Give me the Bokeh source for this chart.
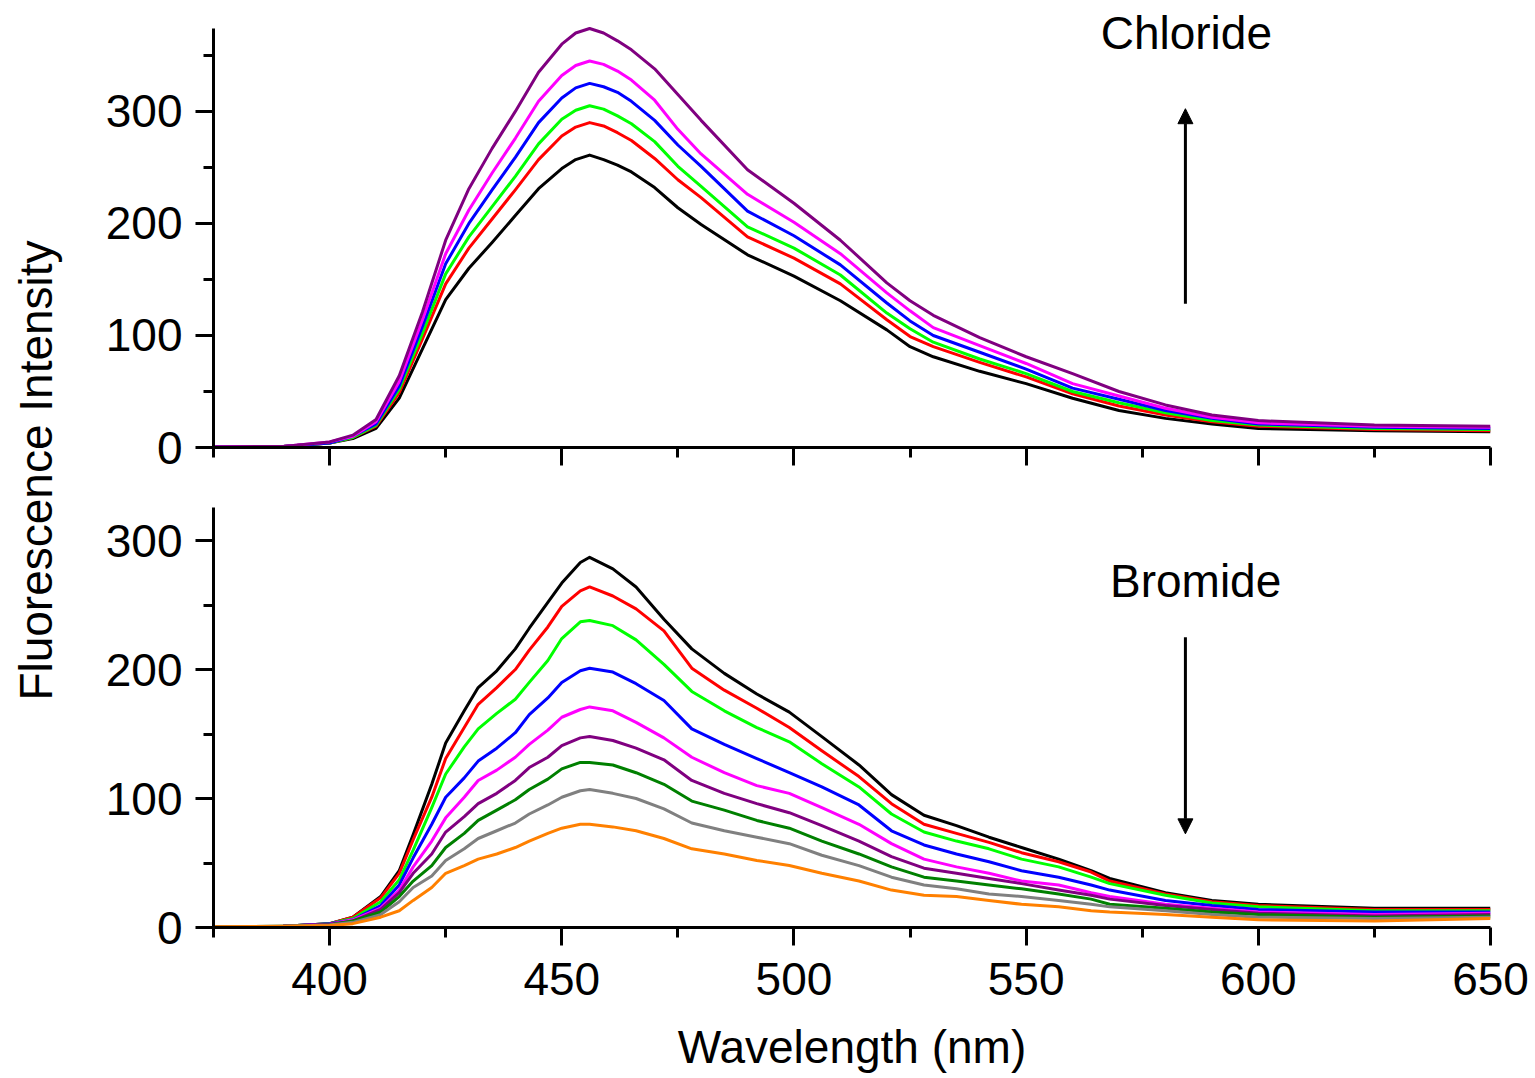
import math
from bokeh.plotting import figure
from bokeh.models import Range1d, FixedTicker, Label, Arrow, NormalHead, CustomJSTickFormatter
from bokeh.layouts import row, column
from bokeh.embed import file_html
from bokeh.resources import INLINE

FONT = "Liberation Sans"

# ---------------- data ----------------
# Chloride (top panel)
wl_cl = [375, 390, 400, 405, 410, 415, 420, 425, 430, 435, 440, 445, 450, 453, 456, 459, 462, 465,
         470, 475, 480, 490, 500, 510, 520, 525, 530, 540, 550, 560, 570, 580, 590, 600, 625, 650]
cl_black = [0.5, 1, 4, 8, 17, 44, 88, 132, 160, 183, 207, 231, 249, 257, 261, 257, 252, 246,
            232, 214, 199, 172, 153, 131, 105, 90, 81, 68, 57, 44, 33, 26, 21, 17, 15, 14]
cl_red = [0.5, 1, 4, 9, 19, 49, 97, 146, 178, 204, 230, 257, 278, 286, 290, 287, 281, 274,
          258, 239, 223, 188, 169, 146, 114, 99, 90, 76, 63, 48, 37, 29, 23, 19, 16, 15]
cl_green = [0.5, 1, 4, 9, 20, 52, 102, 155, 188, 215, 242, 271, 293, 301, 305, 302, 296, 289,
            273, 251, 233, 197, 178, 154, 120, 106, 94, 79, 66, 50, 40, 31, 24, 20, 17, 16]
cl_blue = [0.5, 1, 4, 10, 21, 55, 108, 164, 200, 230, 259, 290, 312, 321, 325, 322, 317, 309,
           292, 270, 251, 211, 189, 163, 129, 113, 100, 85, 70, 53, 43, 33, 26, 21, 18, 17]
cl_magenta = [0.5, 1, 5, 10, 23, 59, 114, 173, 212, 245, 276, 309, 332, 341, 345, 342, 336, 328,
              310, 284, 262, 226, 201, 173, 138, 122, 107, 91, 75, 57, 46, 35, 27, 22, 19, 18]
cl_purple = [0.5, 1, 5, 11, 25, 64, 121, 185, 231, 267, 300, 335, 360, 370, 374, 370, 363, 355,
             338, 315, 292, 248, 218, 185, 147, 131, 118, 98, 81, 66, 50, 38, 29, 24, 20, 19]

# Bromide (bottom panel)
wl_br = [375, 390, 400, 405, 411, 415, 418, 422, 425, 429, 432, 436, 440, 443, 447, 450, 454, 456,
         461, 466, 472, 478, 485, 492, 499, 506, 514, 521, 528, 535, 542, 549, 557, 564, 568,
         580, 590, 600, 625, 650]
br_black = [0.5, 1, 3, 8, 24, 44, 72, 111, 143, 168, 186, 199, 216, 232, 252, 267, 283, 287,
            278, 264, 239, 216, 197, 181, 167, 148, 126, 103, 87, 79, 70, 62, 53, 44, 38,
            27, 21, 18, 15, 15]
br_red = [0.5, 1, 3, 8, 23, 42, 68, 101, 131, 155, 173, 186, 200, 215, 233, 249, 261, 264,
          257, 247, 230, 201, 184, 170, 155, 137, 117, 96, 80, 73, 66, 58, 51, 43, 36,
          26, 20, 17, 14, 14]
br_green = [0.5, 1, 3, 7, 20, 37, 60, 93, 119, 140, 154, 166, 177, 190, 207, 224, 237, 238,
            234, 223, 204, 183, 168, 155, 144, 127, 109, 88, 74, 67, 61, 53, 47, 39, 34,
            25, 19, 16, 13, 13]
br_blue = [0.5, 1, 3, 6, 17, 33, 54, 80, 101, 116, 129, 139, 151, 165, 178, 190, 199, 201,
           198, 189, 176, 154, 142, 131, 120, 109, 95, 75, 64, 57, 51, 44, 39, 33, 29,
           21, 17, 14, 12, 12]
br_magenta = [0.5, 1, 2.5, 6, 15, 29, 47, 67, 85, 101, 114, 122, 132, 142, 153, 163, 169, 171,
              168, 159, 147, 132, 120, 110, 104, 93, 80, 65, 53, 47, 42, 36, 33, 27, 24,
              18, 15, 12, 10, 11]
br_purple = [0.5, 1, 2.5, 5, 14, 27, 42, 57, 74, 86, 96, 104, 114, 124, 132, 141, 147, 148,
             145, 139, 130, 114, 104, 96, 89, 79, 67, 55, 46, 42, 38, 34, 29, 25, 22,
             17, 14, 11, 9, 10]
br_dkgreen = [0.5, 1, 2, 5, 12, 24, 36, 48, 62, 73, 83, 91, 99, 107, 115, 123, 128, 128,
              126, 120, 111, 98, 91, 83, 77, 67, 57, 47, 39, 36, 33, 30, 26, 22, 18,
              15, 12, 10, 8, 9]
br_gray = [0.5, 1, 2, 4, 10, 20, 31, 40, 52, 61, 69, 75, 81, 88, 95, 101, 106, 107,
           104, 100, 92, 81, 75, 70, 65, 56, 48, 39, 33, 30, 26, 24, 21, 18, 16,
           13, 10, 8, 7, 8]
br_orange = [0.5, 1, 1.5, 3, 8, 13, 21, 31, 42, 48, 53, 57, 62, 67, 73, 77, 80, 80,
             78, 75, 69, 61, 57, 52, 48, 42, 36, 29, 25, 24, 21, 18, 16, 13, 12,
             10, 8, 6, 5, 7]

cl_series = [cl_black, cl_red, cl_green, cl_blue, cl_magenta, cl_purple]
cl_colors = ["#000000", "#FF0000", "#00FF00", "#0000FF", "#FF00FF", "#800080"]
br_series = [br_black, br_red, br_green, br_blue, br_magenta, br_purple, br_dkgreen, br_gray, br_orange]
br_colors = ["#000000", "#FF0000", "#00FF00", "#0000FF", "#FF00FF", "#800080", "#008000", "#808080", "#FF8000"]

x_major = [400, 450, 500, 550, 600, 650]
x_minor = [375, 425, 475, 525, 575, 625]
y_major = [0, 100, 200, 300]
cl_y_minor = [50, 150, 250, 350]
br_y_minor = [50, 150, 250]
CL_YMAX = 374
BR_YMAX = 325.6

# ---------------- layout constants ----------------
W_LAB = 88
W_MAIN = 1447
H_TOP = 477
H_BOT = 600
TOP_PAD = 28          # px of empty frame above the chloride axis end


def style(p):
    for ax in list(p.xaxis) + list(p.yaxis):
        ax.axis_line_width = 3
        ax.axis_line_color = "black"
        ax.major_tick_line_width = 3
        ax.minor_tick_line_width = 3
        ax.major_tick_line_color = "black"
        ax.minor_tick_line_color = "black"
        ax.major_tick_in = 0
        ax.minor_tick_in = 0
        ax.major_tick_out = 18
        ax.minor_tick_out = 10
        ax.major_label_text_font = FONT
        ax.major_label_text_font_size = "46px"
        ax.major_label_text_color = "black"
        ax.axis_label_text_font = FONT
        ax.axis_label_text_font_size = "46px"
        ax.axis_label_text_font_style = "normal"
        ax.axis_label_text_color = "black"
    p.xgrid.visible = False
    p.ygrid.visible = False
    p.outline_line_color = None
    p.background_fill_color = "white"
    p.border_fill_color = "white"
    p.xaxis.major_label_standoff = 17
    p.yaxis.major_label_standoff = 13


# ---------------- top panel ----------------
top_frame_h = H_TOP - 30
top_ymax = CL_YMAX * top_frame_h / (top_frame_h - TOP_PAD)
top = figure(width=W_MAIN, height=H_TOP, output_backend="svg", toolbar_location=None,
             x_range=Range1d(375, 650), y_range=Range1d(0, top_ymax),
             min_border_left=125, min_border_right=45, min_border_top=0, min_border_bottom=30)
style(top)
top.yaxis.bounds = (0, CL_YMAX)
top.xaxis.ticker = FixedTicker(ticks=x_major, minor_ticks=x_minor)
top.yaxis.ticker = FixedTicker(ticks=y_major, minor_ticks=cl_y_minor)
top.xaxis.formatter = CustomJSTickFormatter(code="return ''")
top.xaxis.major_label_text_font_size = "1px"
top.xaxis.major_label_standoff = 0

for ys, c in zip(cl_series, cl_colors):
    top.line(wl_cl, ys, line_color=c, line_width=3, line_join="round")

top.add_layout(Label(x=584.5, y=369.6, text="Chloride", text_align="center",
                     text_baseline="alphabetic", text_font=FONT, text_font_size="46px",
                     text_color="black"))
top.add_layout(Arrow(x_start=584.3, y_start=128.3, x_end=584.3, y_end=302.4,
                     line_width=3, line_color="black",
                     end=NormalHead(size=15, fill_color="black", line_color="black", line_width=1)))

# ---------------- bottom panel ----------------
bot = figure(width=W_MAIN, height=H_BOT, output_backend="svg", toolbar_location=None,
             x_range=Range1d(375, 650), y_range=Range1d(0, BR_YMAX),
             min_border_left=125, min_border_right=45, min_border_top=30, min_border_bottom=150)
style(bot)
bot.xaxis.ticker = FixedTicker(ticks=x_major, minor_ticks=x_minor)
bot.yaxis.ticker = FixedTicker(ticks=y_major, minor_ticks=br_y_minor)
bot.xaxis.axis_label = "Wavelength (nm)"
bot.xaxis.axis_label_standoff = 23

for ys, c in zip(br_series, br_colors):
    bot.line(wl_br, ys, line_color=c, line_width=3, line_join="round")

bot.add_layout(Label(x=586.5, y=269, text="Bromide", text_align="center",
                     text_baseline="alphabetic", text_font=FONT, text_font_size="46px",
                     text_color="black"))
bot.add_layout(Arrow(x_start=584.3, y_start=225, x_end=584.3, y_end=72.6,
                     line_width=3, line_color="black",
                     end=NormalHead(size=15, fill_color="black", line_color="black", line_width=1)))

# ---------------- shared y label ----------------
H_ALL = H_TOP + H_BOT
lab = figure(width=W_LAB, height=H_ALL, output_backend="svg", toolbar_location=None,
             x_range=Range1d(0, W_LAB), y_range=Range1d(0, H_ALL),
             x_axis_location=None, y_axis_location=None,
             min_border_left=0, min_border_right=0, min_border_top=0, min_border_bottom=0)
lab.xgrid.visible = False
lab.ygrid.visible = False
lab.outline_line_color = None
lab.add_layout(Label(x=35, y=H_ALL - 470, text="Fluorescence Intensity", angle=math.pi / 2,
                     text_align="center", text_baseline="alphabetic", text_font=FONT,
                     text_font_size="46px", text_color="black"))

layout = row(lab, column(top, bot))

open("out.html", "w").write(file_html(layout, INLINE))
